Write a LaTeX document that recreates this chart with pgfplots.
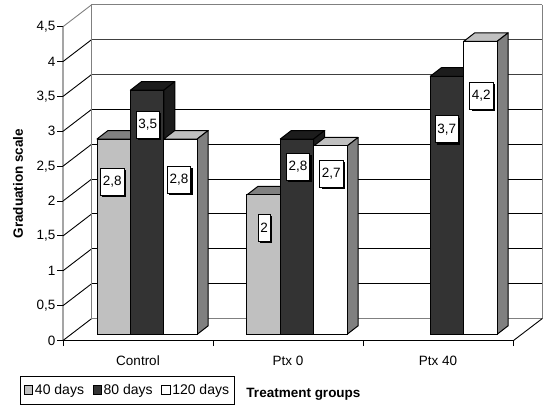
\documentclass[border=0pt]{standalone}
\usepackage{fontspec}
\setmainfont{Liberation Sans}
\usepackage{pgfplots}
\pgfplotsset{compat=1.18}
\definecolor{gA}{HTML}{C0C0C0}
\definecolor{gB}{HTML}{808080}
\definecolor{dA}{HTML}{333333}
\definecolor{dB}{HTML}{1C1C1C}
\newcommand{\fs}{\fontsize{13.5pt}{15pt}\selectfont}
\pgfplotsset{
  frame/.style={
    scale only axis, width=479.3pt, height=335.8pt,
    at={(63pt,64.5pt)}, anchor=south west,
    xmin=63, xmax=542.3, clip=false},
  dbar/.style={
    ybar, bar width=33.4pt, draw=black, line width=1pt,
    legend image code/.code={\draw[##1,/tikz/.cd,line width=.6pt,yshift=-4pt] (0pt,0pt) rectangle (8.5pt,8.5pt);}},
}
% top and side face of a bar: left x, value, top colour, side colour
\newcommand{\barfaces}[4]{%
  \pgfmathsetmacro\xr{#1+33.4}%
  \pgfmathsetmacro\xlb{#1+11}%
  \pgfmathsetmacro\xrb{#1+44.4}%
  \pgfmathsetmacro\yb{#2+0.122}%
  \edef\faces{%
    \noexpand\addplot[forget plot,fill=#3,draw=black,line width=1pt,line join=round]
      coordinates {(#1,#2)(\xr,#2)(\xrb,\yb)(\xlb,\yb)} --cycle;
    \noexpand\addplot[forget plot,fill=#4,draw=black,line width=1pt,line join=round]
      coordinates {(\xr,0)(\xrb,0.122)(\xrb,\yb)(\xr,#2)} --cycle;}%
  \faces}
% value box with its shadow: x, y, width, text
\newcommand{\vallabel}[4]{%
  \node[fill=black,minimum width=#3pt,minimum height=27pt,inner sep=0pt,xshift=2pt,yshift=-2pt] at (axis cs:#1,#2) {};
  \node[fill=white,draw=black,line width=.7pt,minimum width=#3pt,minimum height=27pt,inner sep=0pt,font=\fs] at (axis cs:#1,#2) {#4};}
\begin{document}
\begin{tikzpicture}
\path[use as bounding box] (0pt,0pt) rectangle (546pt,405pt);
\begin{axis}[
  frame,
  ymin=0, ymax=4.815,
  axis line style={draw=none},
  xtick pos=bottom, ytick pos=left,
  tick align=outside,
  ytick={0,0.5,1,1.5,2,2.5,3,3.5,4,4.5},
  xtick={138,288,438},
  xticklabels={Control,Ptx 0,Ptx 40},
  minor xtick={63,213,363,513.5},
  major tick length=6pt, minor tick length=5.5pt,
  major x tick style={draw=none},
  tick style={black,line width=.9pt},
  minor tick style={black,line width=.9pt},
  y tick label style={/pgf/number format/assume math mode=true,/pgf/number format/use comma,font=\fs,xshift=2pt},
  x tick label style={font=\fs,yshift=-6pt},
  ylabel={Graduation scale},
  ylabel style={at={(axis cs:18,2.25)},anchor=center,font=\fs\bfseries},
  xlabel={Treatment groups},
  xlabel style={at={(axis cs:303.5,-0.775)},anchor=center,font=\fs\bfseries},
]
% grid on the back wall
\addplot[black,line width=.9pt,unbounded coords=jump] coordinates {
  (91.7,0.815)(542.3,0.815)(91.7,nan)
  (91.7,1.315)(542.3,1.315)(91.7,nan)
  (91.7,1.815)(542.3,1.815)(91.7,nan)
  (91.7,2.315)(542.3,2.315)(91.7,nan)
  (91.7,2.815)(542.3,2.815)(91.7,nan)
  (91.7,3.315)(542.3,3.315)};
\addplot[black!75,line width=.9pt,unbounded coords=jump] coordinates {
  (91.7,3.815)(542.3,3.815)(91.7,nan)
  (91.7,4.315)(542.3,4.315)};
% side wall diagonals
\addplot[black,line width=.9pt,unbounded coords=jump] coordinates {
  (63,0)(91.7,0.315)(63,nan)
  (63,0.5)(91.7,0.815)(63,nan)
  (63,1)(91.7,1.315)(63,nan)
  (63,1.5)(91.7,1.815)(63,nan)
  (63,2)(91.7,2.315)(63,nan)
  (63,2.5)(91.7,2.815)(63,nan)
  (63,3)(91.7,3.315)(63,nan)
  (63,3.5)(91.7,3.815)(63,nan)
  (63,4)(91.7,4.315)};
\addplot[gB,line width=.9pt] coordinates {(63,4.5)(91.7,4.815)};
\addplot[gB,line width=1.4pt] coordinates {(91.7,0.315)(91.7,4.815)(542.3,4.815)};
\addplot[gB,line width=.9pt] coordinates {(542.3,4.815)(542.3,0.315)};
\addplot[gB,line width=1.4pt] coordinates {(91.7,0.315)(542.3,0.315)};
% front axis lines
\addplot[black,line width=.9pt] coordinates {(63,4.5)(63,0)(513.5,0)(542.3,0.315)};
\end{axis}
\begin{axis}[
  frame,
  ymin=-0.089, ymax=4.726,
  hide axis,
  legend columns=3,
  legend style={
    at={(axis cs:20,-0.593)}, anchor=north west,
    draw=black, line width=.8pt, font=\fontsize{14pt}{15pt}\selectfont,
    inner xsep=3.5pt, inner ysep=6.3pt,
    /tikz/column 2/.style={column sep=6.5pt},
    /tikz/column 4/.style={column sep=6.5pt},
  },
]
% 40 days
\barfaces{97}{2.8}{gB}{gB}
\barfaces{247}{2}{gB}{gB}
\addplot[dbar,fill=gA,bar shift=-33.4pt] coordinates {(147.2,2.8)(297,2)};
\addlegendentry{40 days}
% 80 days
\barfaces{130.4}{3.5}{dB}{dB}
\barfaces{280.3}{2.8}{dB}{dB}
\barfaces{430.3}{3.7}{dB}{dB}
\addplot[dbar,fill=dA,bar shift=0pt] coordinates {(147.2,3.5)(297,2.8)(447,3.7)};
\addlegendentry{80 days}
% 120 days
\barfaces{163.8}{2.8}{gA}{gB}
\barfaces{313.7}{2.7}{gA}{gB}
\barfaces{463.7}{4.2}{gA}{gB}
\addplot[dbar,fill=white,bar shift=33.4pt] coordinates {(147.2,2.8)(297,2.7)(447,4.2)};
\addlegendentry{120 days}
\vallabel{112.2}{2.19}{23.5}{2,8}
\vallabel{147.7}{3.01}{23.5}{3,5}
\vallabel{178.9}{2.22}{23.5}{2,8}
\vallabel{264.2}{1.526}{11.7}{2}
\vallabel{298}{2.40}{23.5}{2,8}
\vallabel{331.3}{2.30}{23.5}{2,7}
\vallabel{446.7}{2.94}{23.5}{3,7}
\vallabel{481.3}{3.417}{23.5}{4,2}
\end{axis}
\end{tikzpicture}
\end{document}
